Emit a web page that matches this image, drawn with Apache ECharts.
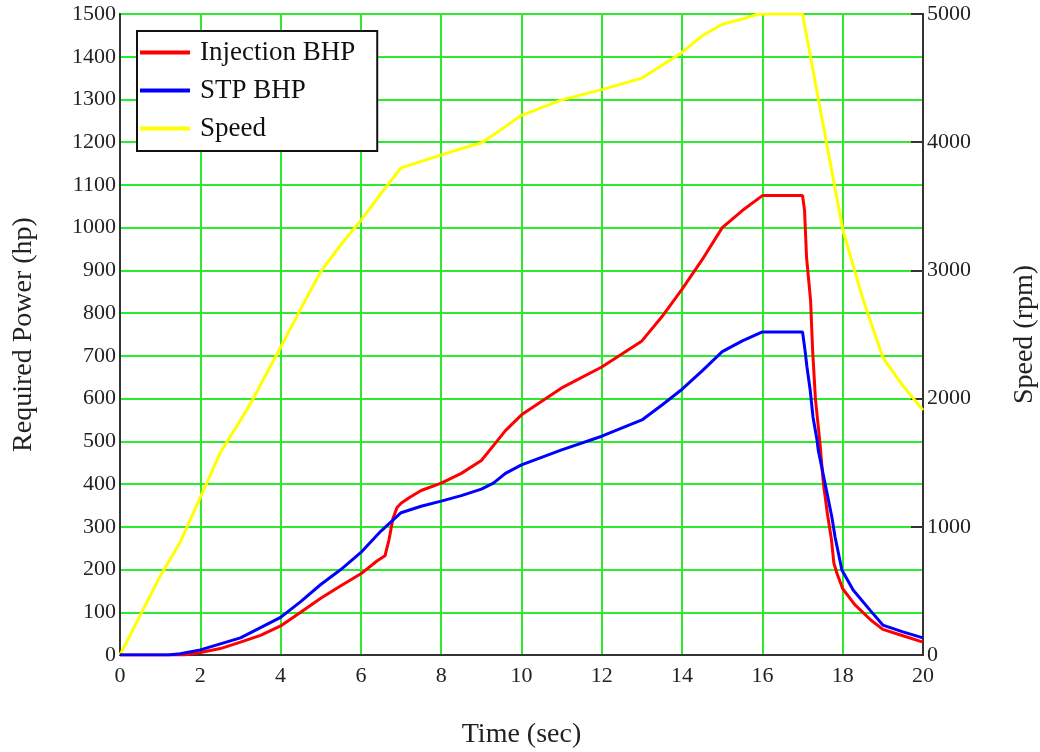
<!DOCTYPE html>
<html>
<head>
<meta charset="utf-8">
<script src="https://cdn.jsdelivr.net/npm/echarts@6/dist/echarts.min.js"></script>
<style>
  html, body { margin: 0; padding: 0; background: #fff; }
  #chart { width: 1040px; height: 752px; }
</style>
</head>
<body>
<div id="chart"></div>
<script>
// Injection pump brake horsepower vs time
const injTime = [0, 1, 1.6, 2, 2.5, 3, 3.5, 4, 4.5, 5, 5.5, 6, 6.4, 6.6, 6.7, 6.8, 6.9, 7.0, 7.2, 7.5, 8, 8.5, 9, 9.3, 9.6, 10, 11, 12, 13, 13.5, 14, 14.5, 15, 15.5, 16, 17, 17.05, 17.1, 17.2, 17.25, 17.32, 17.43, 17.52, 17.62, 17.72, 17.78, 17.86, 18, 18.3, 18.7, 19, 19.5, 20];
const injBhp  = [0, 0, 0, 6, 15, 30, 46, 68, 100, 133, 162, 190, 220, 232, 270, 320, 345, 355, 368, 385, 402, 425, 455, 490, 525, 562, 625, 674, 735, 792, 856, 925, 1000, 1040, 1075, 1075, 1040, 930, 830, 715, 600, 500, 400, 330, 270, 215, 190, 155, 118, 82, 60, 45, 30];

// STP brake horsepower vs time
const stpTime = [0, 1.2, 1.5, 2, 3, 4, 4.5, 5, 5.5, 6, 6.5, 7, 7.5, 8, 8.5, 9, 9.3, 9.6, 10, 11, 12, 13, 13.5, 14, 14.5, 15, 15.5, 16, 17, 17.06, 17.11, 17.19, 17.26, 17.36, 17.39, 17.56, 17.73, 17.81, 17.98, 18.26, 18.68, 19, 19.5, 20];
const stpBhp  = [0, 0, 3, 12, 40, 88, 125, 165, 200, 240, 290, 333, 348, 360, 373, 388, 402, 425, 445, 480, 512, 550, 585, 622, 665, 710, 735, 756, 756, 714, 674, 620, 557, 503, 480, 402, 323, 276, 199, 152, 105, 70, 54, 40];

// Shaft speed vs time
const spdTime = [0, 1, 1.5, 2, 2.5, 3, 3.3, 4, 4.5, 5, 5.5, 6, 6.5, 7, 7.5, 8, 8.5, 9, 9.5, 10, 11, 12, 13, 13.5, 14, 14.5, 15, 15.5, 15.9, 17, 17.6, 18, 18.5, 19, 19.5, 20];
const spdRpm  = [0, 615, 880, 1230, 1580, 1830, 1990, 2400, 2700, 2990, 3200, 3390, 3600, 3800, 3850, 3900, 3950, 3994, 4100, 4210, 4330, 4410, 4500, 4600, 4700, 4830, 4920, 4960, 5000, 5000, 3990, 3320, 2780, 2320, 2100, 1910];

// Axis tick settings
const timeTicks  = { min: 0, max: 20, interval: 2 };
const powerTicks = { min: 0, max: 1500, interval: 100 };
const speedTicks = { min: 0, max: 5000, interval: 1000 };

const zip = (xs, ys) => xs.map((x, i) => [x, ys[i]]);
const plain = v => String(v);

const serif = 'Liberation Serif, Times New Roman, serif';
const gridGreen = '#2cea2c';

const chart = echarts.init(document.getElementById('chart'), null, { renderer: 'canvas' });

chart.setOption({
  backgroundColor: '#ffffff',
  animation: false,
  grid: {
    left: 120, right: 117, top: 14, bottom: 97,
    outerBoundsMode: 'none', containLabel: false,
    show: true, borderColor: '#333', borderWidth: 2, backgroundColor: '#fff'
  },
  legend: {
    orient: 'vertical',
    left: 137, top: 31,
    backgroundColor: '#fff',
    borderColor: '#111', borderWidth: 2,
    padding: [8, 22, 9, 3],
    itemGap: 11,
    itemWidth: 50, itemHeight: 4,
    icon: 'rect',
    textStyle: { fontFamily: serif, fontSize: 27, color: '#111', padding: [0, 0, 0, 5] },
    data: ['Injection BHP', 'STP BHP', 'Speed']
  },
  xAxis: {
    type: 'value',
    min: timeTicks.min, max: timeTicks.max, interval: timeTicks.interval,
    name: 'Time (sec)', nameLocation: 'middle', nameGap: 66,
    nameTextStyle: { fontFamily: serif, fontSize: 28, color: '#222' },
    axisLine: { show: true, lineStyle: { color: '#333', width: 2 } },
    axisTick: { show: false },
    axisLabel: { fontFamily: serif, fontSize: 22, color: '#222', margin: 10, formatter: plain },
    splitLine: { show: true, lineStyle: { color: gridGreen, width: 2 } }
  },
  yAxis: [
    {
      type: 'value', position: 'left',
      min: powerTicks.min, max: powerTicks.max, interval: powerTicks.interval,
      name: 'Required Power (hp)', nameLocation: 'middle', nameGap: 82, nameRotate: 90,
      nameTextStyle: { fontFamily: serif, fontSize: 28, color: '#222' },
      axisLine: { show: true, lineStyle: { color: '#333', width: 2 } },
      axisTick: { show: false },
      axisLabel: { fontFamily: serif, fontSize: 22, color: '#222', margin: 4, formatter: plain },
      splitLine: { show: true, lineStyle: { color: gridGreen, width: 2 } }
    },
    {
      type: 'value', position: 'right',
      min: speedTicks.min, max: speedTicks.max, interval: speedTicks.interval,
      name: 'Speed (rpm)', nameLocation: 'middle', nameGap: 88, nameRotate: 90,
      nameTextStyle: { fontFamily: serif, fontSize: 28, color: '#222' },
      axisLine: { show: true, lineStyle: { color: '#333', width: 2 } },
      axisTick: { show: true, inside: true, length: 12, lineStyle: { color: '#333', width: 2 } },
      axisLabel: { fontFamily: serif, fontSize: 22, color: '#222', margin: 4, formatter: plain },
      splitLine: { show: false }
    }
  ],
  series: [
    {
      name: 'Injection BHP', type: 'line', yAxisIndex: 0,
      data: zip(injTime, injBhp), showSymbol: false, symbol: 'none',
      lineStyle: { color: '#ff0000', width: 3 }, itemStyle: { color: '#ff0000' }, z: 4
    },
    {
      name: 'STP BHP', type: 'line', yAxisIndex: 0,
      data: zip(stpTime, stpBhp), showSymbol: false, symbol: 'none',
      lineStyle: { color: '#0000ff', width: 3 }, itemStyle: { color: '#0000ff' }, z: 5
    },
    {
      name: 'Speed', type: 'line', yAxisIndex: 1,
      data: zip(spdTime, spdRpm), showSymbol: false, symbol: 'none',
      lineStyle: { color: '#ffff00', width: 3 }, itemStyle: { color: '#ffff00' }, z: 3
    }
  ]
});
</script>
</body>
</html>
